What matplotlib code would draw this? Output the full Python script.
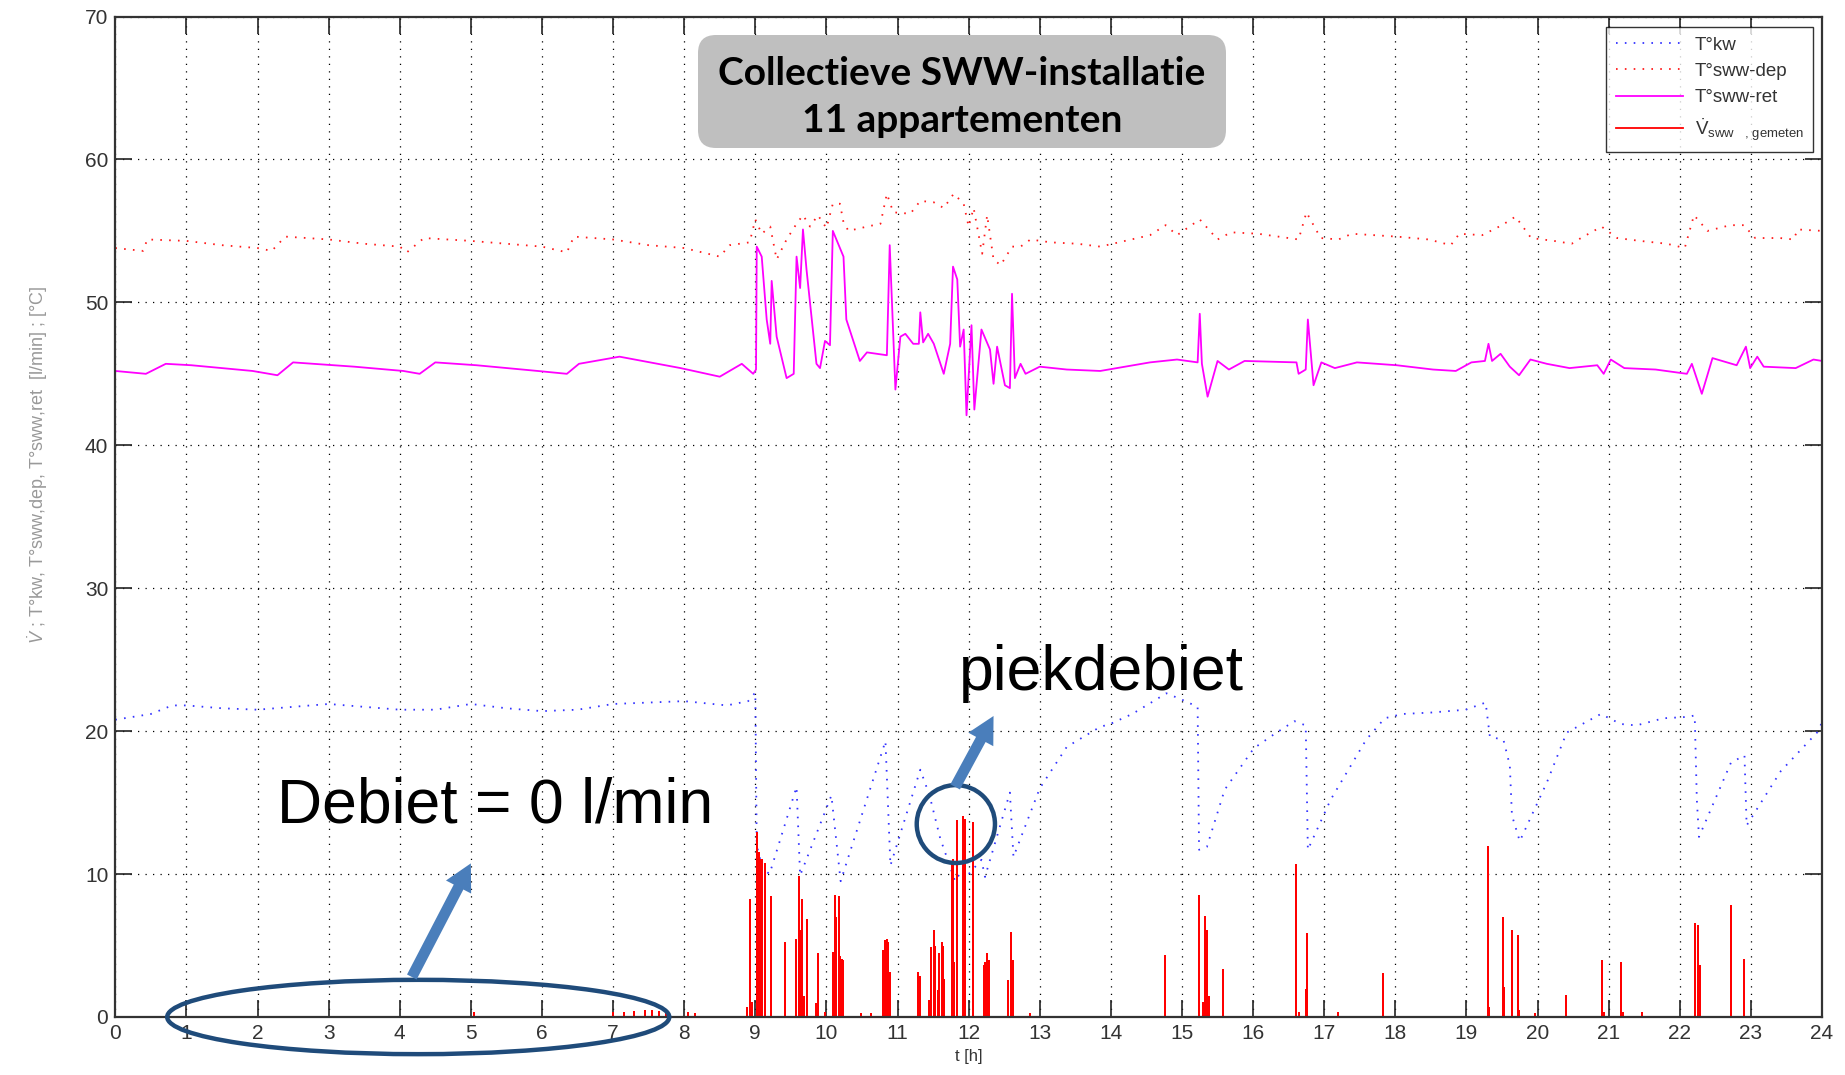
import numpy as np
import matplotlib
matplotlib.use("Agg")
import matplotlib.pyplot as plt
from matplotlib.patches import Ellipse, FancyBboxPatch, FancyArrowPatch
from matplotlib.transforms import IdentityTransform

plt.rcParams['font.family'] = ['Liberation Sans', 'DejaVu Sans']
plt.rcParams['mathtext.fontset'] = 'custom'
plt.rcParams['mathtext.rm'] = 'Liberation Sans'
plt.rcParams['mathtext.it'] = 'Liberation Sans:italic'

# ---------------- data ----------------
# T°kw (cold water)
kw_t = [0, 0.5, 0.8, 1.0, 1.5, 2.0, 2.5, 3.0, 3.5, 4.0, 4.5, 5.0, 5.5, 6.0, 6.5, 7.0, 7.5, 8.0, 8.6, 8.9, 9.0,
        9.02, 9.1, 9.2, 9.58, 9.63, 10.07, 10.2, 10.83, 10.9, 11.32, 11.45, 11.6, 11.81, 11.92, 12.0, 12.18, 12.23,
        12.58, 12.63, 13.0, 13.38, 13.85, 13.99, 14.3, 14.55, 14.78, 15.0, 15.22, 15.24, 15.35, 15.6, 16.01, 16.3,
        16.58, 16.74, 16.77, 17.09, 17.59, 17.85, 18.1, 18.5, 18.99, 19.27, 19.33, 19.52, 19.61, 19.64, 19.75,
        20.13, 20.41, 20.89, 21.17, 21.39, 21.77, 22.12, 22.21, 22.24, 22.27, 22.72, 22.91, 22.94, 23.42, 23.93, 24.0]
kw_v = [20.8, 21.2, 21.8, 21.8, 21.6, 21.5, 21.7, 21.9, 21.7, 21.5, 21.5, 21.9, 21.6, 21.4, 21.5, 21.9, 22.0, 22.1, 21.8, 22.1, 22.7,
        12.0, 10.4, 10.0, 16.1, 9.9, 15.5, 9.5, 19.3, 10.6, 17.3, 15.5, 12.5, 9.5, 10.4, 10.0, 11.0, 9.8,
        15.7, 11.2, 16.0, 18.9, 20.3, 20.5, 21.2, 21.95, 22.65, 22.2, 21.7, 11.7, 11.9, 15.9, 18.8, 19.8,
        20.7, 20.4, 11.7, 15.2, 19.4, 20.9, 21.2, 21.3, 21.5, 22.0, 19.6, 19.4, 17.6, 14.1, 12.3,
        16.4, 19.9, 21.2, 20.5, 20.4, 20.9, 21.0, 21.1, 15.2, 12.6, 17.8, 18.3, 13.4, 17.2, 19.9, 20.6]

# T°sww-dep (supply)
dep_t = [0, 0.39, 0.45, 1.0, 1.5, 2.0, 2.2, 2.39, 3.0, 3.5, 4.0, 4.1, 4.34, 5.0, 5.5, 6.0, 6.35, 6.45, 7.0, 7.5,
         8.0, 8.5, 8.64, 8.92, 9.0, 9.09, 9.21, 9.3, 9.44, 9.58, 9.67, 9.77, 9.88, 10.0, 10.09, 10.19, 10.24, 10.31,
         10.57, 10.76, 10.85, 10.94, 11.18, 11.32, 11.51, 11.65, 11.79, 11.93, 12.0, 12.07, 12.19, 12.26, 12.35,
         12.45, 12.61, 12.73, 12.87, 13.15, 13.53, 13.85, 14.2, 14.55, 14.77, 14.93, 15.25, 15.5, 15.69, 16.07,
         16.64, 16.75, 16.95, 17.2, 17.39, 18.02, 18.47, 18.78, 18.9, 19.22, 19.5, 19.69, 19.91, 20.23, 20.48,
         20.61, 20.9, 21.12, 21.44, 21.82, 22.07, 22.2, 22.39, 22.71, 22.9, 23.06, 23.41, 23.6, 23.66, 24.0]
dep_v = [53.8, 53.6, 54.4, 54.3, 54.0, 53.8, 53.6, 54.6, 54.4, 54.1, 53.9, 53.5, 54.5, 54.3, 54.1, 53.9, 53.5, 54.6, 54.4, 54.0,
         53.8, 53.2, 54.0, 54.2, 55.8, 54.8, 55.3, 53.0, 54.4, 55.5, 56.1, 55.3, 56.1, 55.2, 56.9, 56.9, 55.6, 55.0,
         55.3, 55.5, 57.6, 56.3, 56.2, 57.1, 57.0, 56.6, 57.6, 56.9, 55.3, 56.6, 53.4, 56.1, 53.0,
         52.6, 53.9, 53.9, 54.4, 54.2, 54.1, 53.9, 54.3, 54.7, 55.4, 54.7, 55.8, 54.4, 54.9, 54.8,
         54.4, 56.3, 54.5, 54.4, 54.8, 54.6, 54.4, 54.0, 54.8, 54.7, 55.4, 56.0, 54.5, 54.3, 54.1,
         54.5, 55.3, 54.5, 54.3, 54.1, 53.8, 56.1, 55.0, 55.4, 55.4, 54.5, 54.5, 54.4, 55.1, 55.0]

# T°sww-ret (return)
ret_t = [0, 0.43, 0.71, 1.07, 1.93, 2.28, 2.5, 3.36, 4.05, 4.28, 4.5, 5.08, 5.94, 6.35, 6.52, 7.09, 7.95, 8.5,
         8.81, 8.97, 9.01, 9.02, 9.09, 9.16, 9.21, 9.23, 9.3, 9.44, 9.54, 9.58, 9.63, 9.67, 9.72, 9.86, 9.91, 9.98,
         10.05, 10.09, 10.24, 10.28, 10.47, 10.57, 10.85, 10.89, 10.97, 11.04, 11.11, 11.22, 11.3, 11.32, 11.36,
         11.43, 11.51, 11.65, 11.74, 11.78, 11.84, 11.88, 11.93, 11.97, 12.04, 12.08, 12.18, 12.3, 12.35, 12.4,
         12.51, 12.58, 12.61, 12.65, 12.73, 12.8, 13.0, 13.38, 13.85, 14.55, 14.93, 15.22, 15.25, 15.28, 15.36,
         15.5, 15.66, 15.88, 16.61, 16.64, 16.74, 16.77, 16.85, 16.96, 17.15, 17.46, 18.02, 18.53, 18.85, 19.07,
         19.26, 19.31, 19.36, 19.48, 19.61, 19.74, 19.9, 20.13, 20.45, 20.84, 20.93, 21.03, 21.22, 21.66, 22.1,
         22.17, 22.31, 22.46, 22.8, 22.93, 22.99, 23.09, 23.18, 23.63, 23.88, 24.0]
ret_v = [45.2, 45.0, 45.7, 45.6, 45.2, 44.9, 45.8, 45.5, 45.2, 45.0, 45.8, 45.6, 45.2, 45.0, 45.7, 46.2, 45.4, 44.8,
         45.7, 45.0, 45.3, 53.9, 53.2, 48.8, 47.1, 51.5, 47.6, 44.7, 45.0, 53.2, 51.0, 55.1, 52.3, 45.7, 45.4, 47.3,
         47.0, 55.0, 53.2, 48.8, 45.9, 46.5, 46.3, 54.0, 43.9, 47.6, 47.8, 47.1, 47.1, 49.3, 47.2,
         47.8, 47.1, 45.0, 47.1, 52.5, 51.6, 46.9, 48.1, 42.1, 48.4, 42.5, 48.1, 46.7, 44.3, 46.9,
         44.2, 44.0, 50.6, 44.7, 45.7, 45.0, 45.5, 45.3, 45.2, 45.8, 46.0, 45.8, 49.2, 45.7, 43.4,
         45.9, 45.3, 45.9, 45.8, 45.0, 45.3, 48.8, 44.2, 45.8, 45.4, 45.8, 45.6, 45.3, 45.2, 45.8,
         45.9, 47.1, 45.9, 46.4, 45.5, 44.9, 46.0, 45.7, 45.4, 45.6, 45.0, 46.0, 45.4, 45.3, 45.0,
         45.7, 43.6, 46.1, 45.6, 46.9, 45.4, 46.2, 45.5, 45.4, 46.0, 45.9]

# V̇ sww, gemeten (measured flow, l/min): spike times and peak values
flow_t = [5.05, 7.0, 7.15, 7.3, 7.45, 7.55, 7.65, 7.75, 8.05, 8.15,
          8.88, 8.93, 8.96, 9.02, 9.05, 9.07, 9.09, 9.13, 9.22, 9.42, 9.57, 9.61, 9.63, 9.66, 9.69, 9.72, 9.85, 9.88,
          9.98, 10.09, 10.12, 10.14, 10.17, 10.19, 10.22, 10.23, 10.48, 10.62, 10.79, 10.83, 10.85, 10.87, 10.9,
          11.29, 11.32, 11.44, 11.47, 11.51, 11.53, 11.57, 11.58, 11.62, 11.64, 11.66, 11.76, 11.78, 11.8, 11.83,
          11.92, 11.95, 12.06, 12.21, 12.23, 12.26, 12.28, 12.55, 12.6, 12.62, 12.86,
          14.76, 15.24, 15.3, 15.33, 15.35, 15.38, 15.57, 16.61, 16.64, 16.74, 16.76, 17.2, 17.82,
          19.31, 19.32, 19.51, 19.53, 19.64, 19.72, 19.74, 19.96, 20.4, 20.91, 20.94, 21.17, 21.2, 21.47,
          22.22, 22.25, 22.28, 22.72, 22.91]
flow_v = [0.25, 0.3, 0.3, 0.35, 0.4, 0.4, 0.35, 0.3, 0.3, 0.2,
          0.6, 8.2, 1.0, 12.9, 11.5, 11.0, 11.0, 10.7, 8.4, 5.2, 5.4, 9.8, 6.0, 8.2, 1.4, 6.8, 0.9, 4.4,
          0.3, 4.5, 8.5, 6.9, 8.4, 4.2, 4.0, 3.9, 0.2, 0.2, 4.6, 5.3, 5.4, 5.2, 3.1,
          3.1, 2.8, 1.1, 4.8, 6.0, 4.9, 1.8, 4.4, 5.2, 4.9, 2.6, 10.6, 11.0, 3.8, 13.7,
          14.0, 13.8, 13.6, 3.6, 3.8, 4.4, 3.9, 2.5, 5.9, 3.9, 0.2,
          4.3, 8.5, 1.0, 7.0, 6.0, 1.4, 3.3, 10.6, 0.3, 1.9, 5.8, 0.3, 3.0,
          11.9, 0.6, 6.9, 2.0, 6.0, 5.7, 0.4, 0.2, 1.5, 3.9, 0.3, 3.8, 0.3, 0.3,
          6.5, 6.4, 3.6, 7.8, 4.0]

x_ticks = list(range(0, 25))
y_ticks = list(range(0, 71, 10))
legend_labels = ["T°kw", "T°sww-dep", "T°sww-ret",
                 r"$\dot{\mathrm{V}}_{\mathrm{sww}\quad\mathrm{,\,gemeten}}$"]
title_text = "Collectieve SWW-installatie\n11 appartementen"
ylabel_text = r"$\dot{V}$ ; T°kw, T°sww,dep, T°sww,ret  [l/min] ; [°C]"

# ---------------- figure ----------------
W, H = 1845, 1075
fig = plt.figure(figsize=(W / 100, H / 100), dpi=100)
ax = fig.add_axes([115.3 / W, 1 - 1017 / H, (1822 - 115.3) / W, (1017 - 16.5) / H])

# flow spikes as one line (baseline 0 between spikes)
ft = np.asarray(flow_t)
fv = np.asarray(flow_v)
fx = np.concatenate([[x_ticks[0]], np.repeat(ft, 3), [x_ticks[-1]]])
fy = np.concatenate([[0], np.column_stack([np.zeros_like(fv), fv, np.zeros_like(fv)]).ravel(), [0]])

l1, = ax.plot(kw_t, kw_v, color='#3333ff', lw=1.3, dashes=(0.9, 4.0), label=legend_labels[0])
l2, = ax.plot(dep_t, dep_v, color='#ff1a1a', lw=1.3, dashes=(0.9, 4.0), label=legend_labels[1])
l3, = ax.plot(ret_t, ret_v, color='#ff00ff', lw=1.3, label=legend_labels[2])
l4, = ax.plot(fx, fy, color='#ff0000', lw=1.3, label=legend_labels[3])

ax.set_xlim(x_ticks[0], x_ticks[-1])
ax.set_ylim(y_ticks[0], y_ticks[-1])
ax.set_xticks(x_ticks)
ax.set_yticks(y_ticks)
ax.grid(True, color='black', lw=0.9, linestyle=(0, (1, 5)))
ax.tick_params(direction='in', length=12, width=1.2, top=True, right=True,
               labelsize=15, labelcolor='#333333', color='#222222', pad=5)
for s in ax.spines.values():
    s.set_linewidth(1.6)
    s.set_color('#333333')

ax.set_xlabel("t [h]", fontsize=12, color='#333333', labelpad=4)
fig.text(38 / W, 1 - 465 / H, ylabel_text, rotation=90, ha='center', va='center',
         fontsize=13, color='#999999')

leg = ax.legend(handles=[l1, l2, l3, l4], loc='upper right',
                bbox_to_anchor=(1813 / W, 1 - 27 / H), bbox_transform=fig.transFigure,
                borderaxespad=0,
                fontsize=13.5, frameon=True, fancybox=False, edgecolor='black',
                handlelength=3.6, labelspacing=0.5, borderpad=0.5, handletextpad=0.6)
leg.get_frame().set_linewidth(1.0)
for t in leg.get_texts():
    t.set_color('#333333')

# title box (pixel coordinates)
box = FancyBboxPatch((698, H - 148), 528, 113, boxstyle="round,pad=0,rounding_size=18",
                     transform=IdentityTransform(), fc='#BFBFBF', ec='none', zorder=5)
fig.patches.append(box)
fig.text(962 / W, 1 - 97 / H, title_text, ha='center', va='center', fontsize=28,
         fontweight='bold', family=['Lato', 'DejaVu Sans'], linespacing=1.42, zorder=6)

# annotations
navy = '#1F4B7A'
steel = '#4A7EBB'
ax.add_patch(Ellipse((4.26, 0.0), 7.06, 5.2, fill=False, ec=navy, lw=3.2, clip_on=False, zorder=6))
ax.add_patch(Ellipse((11.82, 13.5), 1.1, 5.45, fill=False, ec=navy, lw=3.2, clip_on=False, zorder=6))
ax.add_patch(FancyArrowPatch((4.17, 2.8), (5.0, 10.75), arrowstyle='simple,head_length=1.6,head_width=1.7,tail_width=0.65',
                             mutation_scale=12, fc=steel, ec='none', zorder=6, shrinkA=0, shrinkB=0))
ax.add_patch(FancyArrowPatch((11.81, 16.1), (12.35, 21.06), arrowstyle='simple,head_length=1.6,head_width=1.7,tail_width=0.65',
                             mutation_scale=12, fc=steel, ec='none', zorder=6, shrinkA=0, shrinkB=0))
ax.text(2.28, 13.6, "Debiet = 0 l/min", fontsize=45, ha='left', va='baseline', color='black', zorder=7)
ax.text(11.87, 22.9, "piekdebiet", fontsize=45, ha='left', va='baseline', color='black', zorder=7)

fig.savefig("out.png", dpi=100, facecolor='white')
